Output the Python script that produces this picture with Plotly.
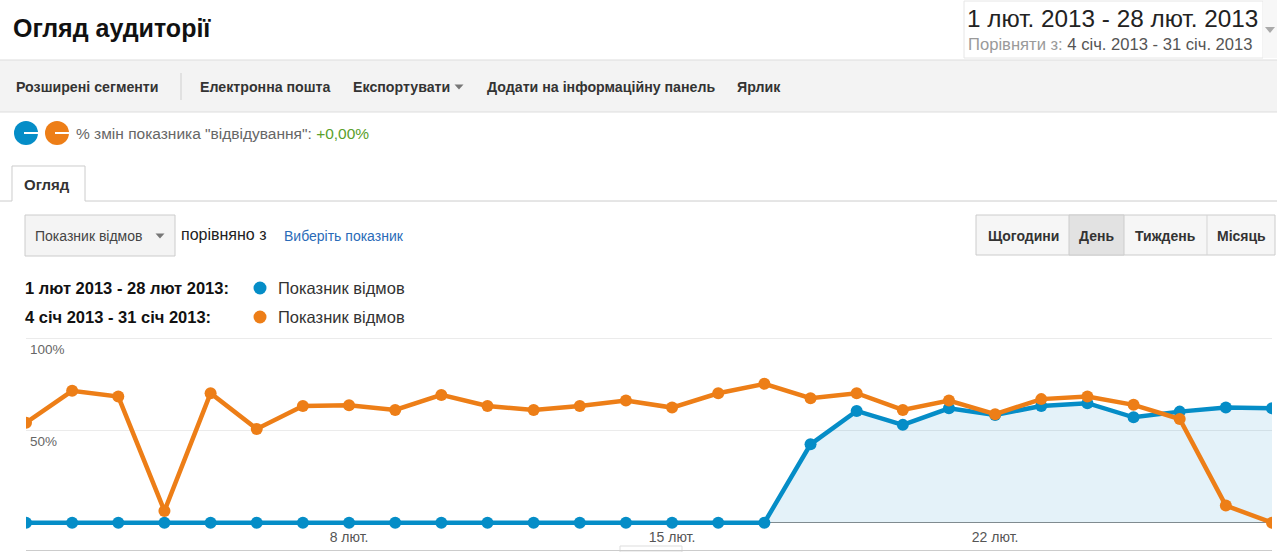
import plotly.graph_objects as go

# ---------------- data ----------------
dates = ["2013-02-01", "2013-02-02", "2013-02-03", "2013-02-04", "2013-02-05", "2013-02-06", "2013-02-07",
         "2013-02-08", "2013-02-09", "2013-02-10", "2013-02-11", "2013-02-12", "2013-02-13", "2013-02-14",
         "2013-02-15", "2013-02-16", "2013-02-17", "2013-02-18", "2013-02-19", "2013-02-20", "2013-02-21",
         "2013-02-22", "2013-02-23", "2013-02-24", "2013-02-25", "2013-02-26", "2013-02-27", "2013-02-28"]
bounce_feb = [0, 0, 0, 0, 0, 0, 0, 0, 0, 0, 0, 0, 0, 0, 0, 0, 0,
              42.6, 60.8, 53.2, 62.2, 58.6, 63.5, 65.0, 57.3, 60.4, 62.6, 62.2]
bounce_jan = [54.4, 71.7, 68.6, 6.4, 70.4, 51.0, 63.5, 63.9, 61.3, 69.5, 63.5, 61.3, 63.5, 66.4,
              62.6, 70.4, 75.5, 67.7, 70.4, 61.3, 66.4, 59.0, 67.2, 68.6, 64.1, 56.4, 9.3, 0.0]
x_tick_vals = ["2013-02-08", "2013-02-15", "2013-02-22"]
x_tick_text = ["8 лют.", "15 лют.", "22 лют."]
y_tick_vals = [50, 100]
y_tick_text = ["50%", "100%"]
series_names = ["Показник відмов", "Показник відмов"]
period_labels = ["1 лют 2013 - 28 лют 2013:", "4 січ 2013 - 31 січ 2013:"]

BLUE = "#058dc7"
ORANGE = "#ed7e17"
FONT = "Liberation Sans, Arial, sans-serif"

# ---------------- geometry ----------------
W, H = 1277, 552
L, R, T, B = 26, 5, 337, 2
PW, PH = W - L - R, H - T - B
y0_px, y100_px = 522.7, 338.8
ppu = (y0_px - y100_px) / 100.0
y_range = [-((H - B) - y0_px) / ppu, (y0_px - T) / ppu]


def X(px):
    return (px - L) / PW


def Y(py):
    return ((H - B) - py) / PH


fig = go.Figure()
fig.add_trace(go.Scatter(x=dates, y=bounce_feb, mode="lines+markers", name=series_names[0],
                         line=dict(color=BLUE, width=4.5), marker=dict(size=12, color=BLUE),
                         fill="tozeroy", fillcolor="rgba(5,141,199,0.11)", showlegend=False))
fig.add_trace(go.Scatter(x=dates, y=bounce_jan, mode="lines+markers", name=series_names[1],
                         line=dict(color=ORANGE, width=4.5), marker=dict(size=12, color=ORANGE),
                         showlegend=False))

shapes = []
ann = []


def text(px, py, s, size=13, color="#333", xanchor="left", bold=False):
    if bold:
        s = "<b>" + s + "</b>"
    if xanchor == "left":
        px -= 1
    ann.append(dict(x=X(px), y=Y(py), xref="paper", yref="paper", text=s, showarrow=False, borderpad=0,
                    xanchor=xanchor, yanchor="middle", font=dict(family=FONT, size=size, color=color)))


def rect(x0, y0, x1, y1, fill, line="rgba(0,0,0,0)", lw=1):
    shapes.append(dict(type="rect", xref="paper", yref="paper", x0=X(x0), x1=X(x1), y0=Y(y0), y1=Y(y1),
                       fillcolor=fill, line=dict(color=line, width=lw), layer="below"))


def hline(x0, x1, y, color="#ccc", lw=1):
    shapes.append(dict(type="line", xref="paper", yref="paper", x0=X(x0), x1=X(x1), y0=Y(y), y1=Y(y),
                       line=dict(color=color, width=lw)))


def vline(x, y0, y1, color="#ccc", lw=1):
    shapes.append(dict(type="line", xref="paper", yref="paper", x0=X(x), x1=X(x), y0=Y(y0), y1=Y(y1),
                       line=dict(color=color, width=lw)))


def circle(cx, cy, r, color):
    shapes.append(dict(type="circle", xref="paper", yref="paper", x0=X(cx - r), x1=X(cx + r),
                       y0=Y(cy + r), y1=Y(cy - r), fillcolor=color, line=dict(color=color, width=0)))


def tri(cx, cy, w, h, color="#777"):
    p = "M %f %f L %f %f L %f %f Z" % (X(cx - w / 2), Y(cy - h / 2), X(cx + w / 2), Y(cy - h / 2), X(cx), Y(cy + h / 2))
    shapes.append(dict(type="path", xref="paper", yref="paper", path=p, fillcolor=color, line=dict(width=0)))


# header
text(13, 28, "Огляд аудиторії", size=25, color="#111", bold=True)
rect(964, 1, 1263, 58, "#ffffff", "#e6e6e6")
rect(1263, 0, 1277, 58, "#f7f7f7")
text(967, 18, "1 лют. 2013 - 28 лют. 2013", size=24.3, color="#222")
text(968, 44, "<span style='color:#9a9a9a'>Порівняти з:</span> 4 січ. 2013 - 31 січ. 2013", size=16.6, color="#555")
tri(1270, 30, 10, 6, "#aaa")

# toolbar
rect(0, 60, 1277, 112, "#f3f3f3")
hline(0, 1277, 60, "#dddddd")
hline(0, 1277, 112, "#dddddd")
vline(181, 73, 100, "#cfcfcf")
for px, s in [(16, "Розширені сегменти"), (200, "Електронна пошта"), (353, "Експортувати"),
              (487, "Додати на інформаційну панель"), (737, "Ярлик")]:
    text(px, 87, s, size=14.2, color="#333", bold=True)
tri(459, 87, 9, 5, "#777")

# % change row
circle(26, 133, 12, BLUE)
shapes.append(dict(type="line", xref="paper", yref="paper", x0=X(24), x1=X(38), y0=Y(133), y1=Y(133),
                   line=dict(color="white", width=2)))
circle(57, 133, 12, ORANGE)
shapes.append(dict(type="line", xref="paper", yref="paper", x0=X(55), x1=X(69), y0=Y(133), y1=Y(133),
                   line=dict(color="white", width=2)))
text(76, 133, "% змін показника \"відвідування\": <span style='color:#5aa02c'>+0,00%</span>", size=15.5, color="#666")

# tab
hline(0, 12, 201, "#cccccc")
hline(85, 1277, 201, "#cccccc")
shapes.append(dict(type="path", xref="paper", yref="paper",
                   path="M %f %f L %f %f L %f %f L %f %f" % (X(12), Y(201), X(12), Y(166), X(85), Y(166), X(85), Y(201)),
                   fillcolor="white", line=dict(color="#cccccc", width=1)))
text(24, 185, "Огляд", size=15, color="#333", bold=True)

# metric dropdown
rect(25, 215, 175, 256, "#f4f4f4", "#cccccc")
text(35, 236, "Показник відмов", size=14, color="#444")
tri(160, 236, 9, 5, "#777")
text(181, 234, "порівняно з", size=16, color="#222")
text(284, 236, "Виберіть показник", size=14, color="#2a6bb8")

# period buttons
rect(976, 215, 1275, 255, "#f6f6f6", "#cccccc")
rect(1069, 215, 1124, 255, "#e2e2e2", "#cccccc")
vline(1207, 215, 255, "#d5d5d5")
for cx, s in [(1023, "Щогодини"), (1096, "День"), (1165, "Тиждень"), (1241, "Місяць")]:
    text(cx, 236, s, size=14, color="#333", xanchor="center", bold=True)

# legend
for i, (py, col) in enumerate([(288, BLUE), (317, ORANGE)]):
    text(25, py, period_labels[i], size=16.5, color="#111", bold=True)
    circle(260, py, 6.5, col)
    text(278, py, series_names[i], size=16.5, color="#333")

# y tick labels drawn inside plot
for v, t in zip(y_tick_vals, y_tick_text):
    ann.append(dict(x=X(29), y=v, xref="paper", yref="y", text=t, showarrow=False, xanchor="left", borderpad=0,
                    yanchor="middle", yshift=-11, font=dict(family=FONT, size=13.5, color="#666")))

# bottom strip detail
rect(620, 546, 682, 552, "#ffffff", "#dddddd")

fig.update_layout(
    width=W, height=H, margin=dict(l=L, r=R, t=T, b=B, pad=0),
    paper_bgcolor="white", plot_bgcolor="white",
    font=dict(family=FONT),
    shapes=shapes, annotations=ann,
    xaxis=dict(range=[dates[0], dates[-1]], tickvals=x_tick_vals, ticktext=x_tick_text,
               ticklabelposition="inside", ticklabelstandoff=5, ticks="", showgrid=False, zeroline=False,
               showline=True, linecolor="#cccccc", linewidth=1,
               tickfont=dict(family=FONT, size=14, color="#555")),
    yaxis=dict(range=y_range, tickvals=y_tick_vals, showticklabels=False, showgrid=True,
               gridcolor="#ebebeb", gridwidth=1, zeroline=True, zerolinecolor="#8c8c8c",
               zerolinewidth=1, showline=False, fixedrange=True),
)

fig.write_html("out.html", config={"displayModeBar": False})
